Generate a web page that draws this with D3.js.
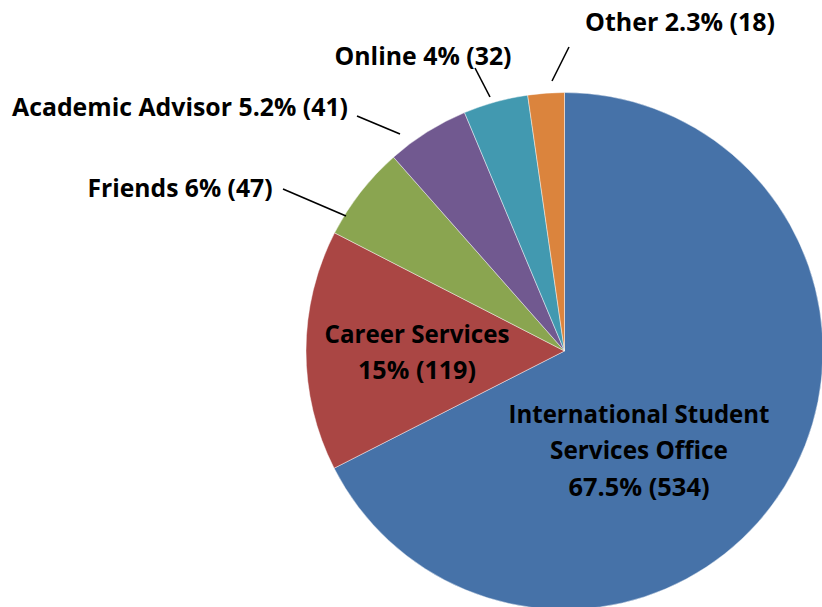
<!DOCTYPE html>
<html>
<head>
<meta charset="utf-8">
<script src="https://cdnjs.cloudflare.com/ajax/libs/d3/7.8.5/d3.min.js"></script>
<style>
  body { margin: 0; background: #fff; }
  svg text { font-family: "Open Sans", Lato, sans-serif; font-weight: bold; fill: #000; }
</style>
</head>
<body>
<svg id="chart" width="822" height="607"></svg>
<script>
// data
const categories = ["International Student Services Office", "Career Services", "Friends", "Academic Advisor", "Online", "Other"];
const counts = [534, 119, 47, 41, 32, 18];
const percents = ["67.5%", "15%", "6%", "5.2%", "4%", "2.3%"];
const colors = ["#4672A8", "#AA4644", "#8AA550", "#715990", "#4299B0", "#DB843D"];

// label lines (text per line) for each slice
const labelLines = [
  ["International Student", "Services Office", "67.5% (534)"],
  ["Career Services", "15% (119)"],
  ["Friends 6% (47)"],
  ["Academic Advisor 5.2% (41)"],
  ["Online 4% (32)"],
  ["Other 2.3% (18)"]
];

// layout only: label anchor (center x, first baseline y), line widths, leader lines
const labelPos = [
  {x: 639, y: 423, w: [261, 178, 141]},
  {x: 417, y: 343, w: [185, 118]},
  {x: 180, y: 197, w: [185]},
  {x: 180, y: 116, w: [336]},
  {x: 423, y: 65, w: [177]},
  {x: 680, y: 31, w: [190]}
];
const leaders = [
  null,
  null,
  [283, 189, 346, 216],
  [357, 116, 400, 134],
  [475, 68, 490, 97],
  [569, 47, 552, 81]
];

let svg = d3.select("#chart");
let cx = 564.5, cy = 351, radius = 258.5;

let data = categories.map((c, i) => ({name: c, value: counts[i], pct: percents[i], color: colors[i], idx: i}));

let pie = d3.pie().sort(null).value(d => d.value).startAngle(0).endAngle(2 * Math.PI);
let arc = d3.arc().innerRadius(0).outerRadius(radius);

let g = svg.append("g").attr("transform", `translate(${cx},${cy})`);

g.selectAll("path")
  .data(pie(data))
  .enter()
  .append("path")
  .attr("d", arc)
  .attr("fill", d => d.data.color)
  .style("stroke", "rgba(255,255,255,0.55)")
  .style("stroke-width", "0.8px");

// leader lines
svg.selectAll("line.leader")
  .data(leaders.filter(l => l))
  .enter()
  .append("line")
  .attr("class", "leader")
  .attr("x1", d => d[0]).attr("y1", d => d[1])
  .attr("x2", d => d[2]).attr("y2", d => d[3])
  .style("stroke", "#000")
  .style("stroke-width", "1.6px");

// labels
let lineGap = 36.3;
data.forEach((d, i) => {
  let p = labelPos[i];
  labelLines[i].forEach((t, j) => {
    svg.append("text")
      .attr("x", p.x)
      .attr("y", p.y + j * lineGap)
      .attr("text-anchor", "middle")
      .attr("textLength", p.w[j])
      .attr("lengthAdjust", "spacingAndGlyphs")
      .style("font-size", "24.5px")
      .text(t);
  });
});
</script>
</body>
</html>
